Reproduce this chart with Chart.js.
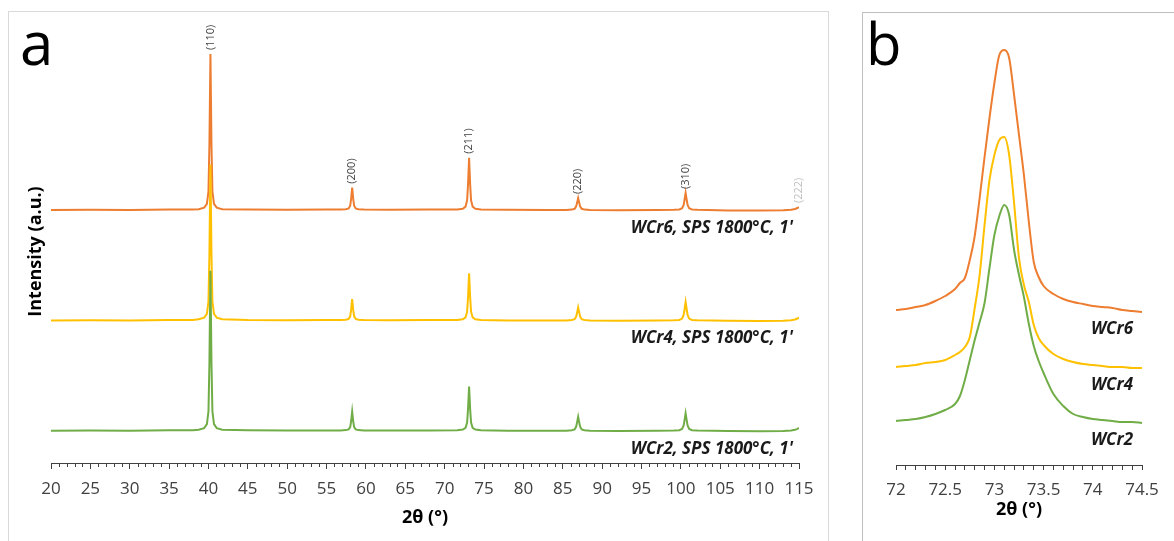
<!DOCTYPE html>
<html>
<head>
<meta charset="utf-8">
<script src="https://cdn.jsdelivr.net/npm/chart.js@4.4.1/dist/chart.umd.min.js"></script>
<style>
html,body{margin:0;padding:0;background:#fff;}
#wrap{position:relative;width:1174px;height:541px;overflow:hidden;background:#fff;}
#boxA{position:absolute;left:8px;top:11px;width:821px;height:600px;border:1px solid #d9d9d9;box-sizing:border-box;}
#boxB{position:absolute;left:862px;top:12px;width:400px;height:600px;border:1px solid #bfbfbf;box-sizing:border-box;}
#cA{position:absolute;left:0;top:0;}
#cB{position:absolute;left:840px;top:0;}
</style>
</head>
<body>
<div id="wrap">
  <div id="boxA"></div>
  <div id="boxB"></div>
  <canvas id="cA" width="845" height="541"></canvas>
  <canvas id="cB" width="334" height="541"></canvas>
</div>
<script>
// ---------------- DATA: panel a (full pattern, offset stacked, a.u.) ----------------
const twoThetaA = [20, 25, 30, 35, 38,
  38.75, 39.45, 39.8, 40.0, 40.12, 40.25, 40.38, 40.5, 40.7, 41.05, 41.75,
  45, 50, 55,
  56.75, 57.45, 57.8, 58.0, 58.12, 58.25, 58.38, 58.5, 58.7, 59.05, 59.75,
  63, 68,
  71.6, 72.3, 72.65, 72.85, 72.97, 73.1, 73.23, 73.35, 73.55, 73.9, 74.6,
  78, 83,
  85.45, 86.15, 86.5, 86.7, 86.82, 86.95, 87.08, 87.2, 87.4, 87.75, 88.45,
  92, 97,
  99.1, 99.8, 100.15, 100.35, 100.47, 100.6, 100.73, 100.85, 101.05, 101.4, 102.1,
  106, 110, 113, 114, 114.5, 114.8, 115];

const wcr6A = [253, 253.3, 253, 253.4, 253.5,
  253.8, 255.3, 259.2, 271.7, 318.5, 409, 318.5, 271.7, 259.2, 255.3, 253.8,
  253.5, 253.2, 253.4,
  253.4, 253.7, 254.6, 257.3, 264.3, 275.3, 264.3, 257.3, 254.6, 253.7, 253.4,
  253.3, 253.4,
  253.6, 254.3, 256.4, 262.7, 279.3, 305.3, 279.3, 262.7, 256.4, 254.3, 253.6,
  253.2, 253,
  253.1, 253.4, 254.2, 256.6, 260.4, 265, 260.4, 256.6, 254.2, 253.4, 253.1,
  252.8, 253,
  253.2, 253.6, 254.7, 258.1, 263.5, 270, 263.5, 258.1, 254.7, 253.6, 253.2,
  252.6, 252.5, 252.8, 253.3, 254, 255, 256];

const wcr4A = [142.5, 142.8, 142.5, 142.9, 143,
  143.8, 145.3, 149.2, 161.7, 208.5, 298.5, 208.5, 161.7, 149.2, 145.3, 143.8,
  143, 142.7, 142.9,
  142.9, 143.2, 144.1, 146.6, 153.3, 163.8, 153.3, 146.6, 144.1, 143.2, 142.9,
  142.8, 142.9,
  143.1, 143.7, 145.6, 151.3, 166.3, 189.8, 166.3, 151.3, 145.6, 143.7, 143.1,
  142.6, 142.5,
  142.6, 143, 143.8, 146.4, 150.6, 155.5, 150.6, 146.4, 143.8, 143, 142.6,
  142.3, 142.5,
  142.7, 143.1, 144.4, 148.1, 154, 161, 154, 148.1, 144.4, 143.1, 142.7,
  142.2, 142, 142.3, 142.8, 143.5, 144.5, 145.5];

const wcr2A = [32.3, 32.6, 32.3, 32.7, 32.8,
  33.3, 34.9, 38.9, 51.7, 99.7, 192.3, 99.7, 51.7, 38.9, 34.9, 33.3,
  32.7, 32.4, 32.6,
  32.6, 32.9, 33.6, 35.9, 42, 51.5, 42, 35.9, 33.6, 32.9, 32.6,
  32.5, 32.6,
  32.8, 33.4, 35.1, 40.4, 54.5, 76.5, 54.5, 40.4, 35.1, 33.4, 32.8,
  32.3, 32.2,
  32.3, 32.7, 33.6, 36.4, 40.9, 46.2, 40.9, 36.4, 33.6, 32.7, 32.3,
  32, 32.2,
  32.4, 32.8, 34, 37.5, 43.1, 49.7, 43.1, 37.5, 34, 32.8, 32.4,
  31.9, 31.8, 32, 32.5, 33.2, 34.2, 35];

const hklLabels = ['(110)', '(200)', '(211)', '(220)', '(310)', '(222)'];
const hklPositions = [40.25, 58.25, 73.1, 86.95, 100.6, 115];
const sampleLabelsA = ["WCr2, SPS 1800°C, 1'", "WCr4, SPS 1800°C, 1'", "WCr6, SPS 1800°C, 1'"];
const xRangeA = [20, 115];

// ---------------- DATA: panel b (zoom on (211) reflection) ----------------
const twoThetaB = [72, 72.1, 72.2, 72.3, 72.4, 72.5, 72.6, 72.65, 72.7, 72.75, 72.8, 72.85,
  72.9, 72.95, 73.0, 73.05, 73.1, 73.15, 73.2, 73.25, 73.3, 73.35, 73.4, 73.45, 73.5,
  73.6, 73.7, 73.8, 73.9, 74.0, 74.1, 74.2, 74.3, 74.4, 74.5];
const wcr6B = [155, 156, 158, 160, 164, 169, 176, 182, 187, 205, 229, 267,
  308, 347, 382, 410, 415, 407, 370, 330, 290, 243, 203, 188, 179,
  171, 166, 163, 161, 159, 158, 157, 155, 154, 153];
const wcr4B = [98, 99, 100, 102, 103, 105, 110, 113, 118, 128, 157, 190,
  240, 285, 310, 325, 328, 310, 262, 207, 180, 163, 140, 127, 120,
  111, 106, 103, 101, 100, 99, 98, 98, 97, 97];
const wcr2B = [44, 45, 46, 48, 51, 55, 61, 69, 85, 105, 125, 143,
  162, 197, 230, 249, 260, 250, 215, 190, 168, 141, 119, 104, 92,
  71, 59, 51, 48, 46, 45, 44, 43, 43, 42];
const sampleLabelsB = ['WCr2', 'WCr4', 'WCr6'];
const xRangeB = [72, 74.5];

// ---------------- STYLE ----------------
const colors = ['#70AD47', '#FFC000', '#ED7D31'];
const axisColor = '#404040';
const FONT = "'Open Sans', 'Noto Sans', sans-serif";

function pts(xs, ys) { return xs.map((x, i) => ({x: x, y: ys[i]})); }

// ---------------- PANEL A ----------------
const minorTicksA = {
  id: 'minorTicksA',
  afterDraw(chart) {
    const s = chart.scales.x, ctx = chart.ctx;
    ctx.save();
    ctx.strokeStyle = axisColor; ctx.lineWidth = 1;
    s.ticks.forEach(t => {
      if (Math.round(t.value) % 5 !== 0) {
        const px = Math.round(s.getPixelForValue(t.value)) + 0.5;
        ctx.beginPath(); ctx.moveTo(px, s.top); ctx.lineTo(px, s.top + 4); ctx.stroke();
      }
    });
    ctx.restore();
  }
};

const annotA = {
  id: 'annotA',
  afterDatasetsDraw(chart) {
    const ctx = chart.ctx, xs = chart.scales.x, ys = chart.scales.y;
    ctx.save();
    ctx.fillStyle = '#000';
    ctx.font = '60px ' + FONT;
    ctx.textAlign = 'left'; ctx.textBaseline = 'alphabetic';
    ctx.fillText('a', 20, 65);
    ctx.font = '11px ' + FONT;
    hklLabels.forEach((lab, i) => {
      const idx = twoThetaA.indexOf(hklPositions[i]);
      const px = xs.getPixelForValue(hklPositions[i]);
      const py = ys.getPixelForValue(wcr6A[idx]) - 4;
      ctx.save();
      ctx.translate(px, py);
      ctx.rotate(-Math.PI / 2);
      ctx.fillStyle = lab === '(222)' ? '#bfbfbf' : '#404040';
      ctx.textAlign = 'left'; ctx.textBaseline = 'middle';
      ctx.fillText(lab, 0, 0);
      ctx.restore();
    });
    ctx.font = 'italic bold 17px ' + FONT;
    ctx.fillStyle = '#1a1a1a';
    ctx.textAlign = 'right'; ctx.textBaseline = 'middle';
    [wcr2A, wcr4A, wcr6A].forEach((arr, i) => {
      const px = xs.getPixelForValue(twoThetaA[twoThetaA.length - 1]) - 6;
      const py = ys.getPixelForValue(arr[0]) + 18;
      ctx.fillText(sampleLabelsA[i], px, py);
    });
    ctx.restore();
  }
};

new Chart(document.getElementById('cA'), {
  type: 'line',
  data: {
    datasets: [
      {label: sampleLabelsA[0], data: pts(twoThetaA, wcr2A), borderColor: colors[0]},
      {label: sampleLabelsA[1], data: pts(twoThetaA, wcr4A), borderColor: colors[1]},
      {label: sampleLabelsA[2], data: pts(twoThetaA, wcr6A), borderColor: colors[2]}
    ]
  },
  options: {
    responsive: false,
    animation: false,
    parsing: false,
    layout: {padding: {left: 0, right: 46, top: 40, bottom: 0}},
    elements: {point: {radius: 0}, line: {borderWidth: 2, tension: 0}},
    plugins: {legend: {display: false}, tooltip: {enabled: false}},
    scales: {
      x: {
        type: 'linear', min: xRangeA[0], max: xRangeA[1],
        afterFit(s) { s.height = 78; },
        border: {display: true, color: axisColor, width: 1},
        grid: {drawOnChartArea: false, tickLength: 6,
          tickColor: c => (c.tick && Math.round(c.tick.value) % 5 === 0) ? axisColor : 'rgba(0,0,0,0)'},
        ticks: {stepSize: 1, autoSkip: false, maxTicksLimit: 1000, maxRotation: 0, minRotation: 0,
          padding: 10, color: axisColor, font: {family: FONT, size: 17},
          callback: v => (Math.round(v) % 5 === 0 ? String(Math.round(v)) : '')},
        title: {display: true, text: '2θ (°)', color: '#000',
          font: {family: FONT, size: 18, weight: 'bold'}, padding: {top: 0, bottom: 12}}
      },
      y: {
        type: 'linear', min: 0, max: 423,
        afterFit(s) { s.width = 51; },
        border: {display: false},
        grid: {display: false},
        ticks: {display: false},
        title: {display: true, text: 'Intensity (a.u.)', color: '#000',
          font: {family: FONT, size: 18, weight: 'bold'}, padding: {top: 25, bottom: 0}}
      }
    }
  },
  plugins: [minorTicksA, annotA]
});

// ---------------- PANEL B ----------------
const annotB = {
  id: 'annotB',
  afterDatasetsDraw(chart) {
    const ctx = chart.ctx, xs = chart.scales.x, ys = chart.scales.y;
    ctx.save();
    ctx.fillStyle = '#000';
    ctx.font = '58px ' + FONT;
    ctx.textAlign = 'left'; ctx.textBaseline = 'alphabetic';
    ctx.fillText('b', 26, 65);
    ctx.font = 'italic bold 17px ' + FONT;
    ctx.fillStyle = '#1a1a1a';
    ctx.textAlign = 'right'; ctx.textBaseline = 'middle';
    [wcr2B, wcr4B, wcr6B].forEach((arr, i) => {
      const px = xs.getPixelForValue(twoThetaB[twoThetaB.length - 1]) - 9;
      const py = ys.getPixelForValue(arr[arr.length - 1]) + 17;
      ctx.fillText(sampleLabelsB[i], px, py);
    });
    ctx.restore();
  }
};

new Chart(document.getElementById('cB'), {
  type: 'line',
  data: {
    datasets: [
      {label: sampleLabelsB[0], data: pts(twoThetaB, wcr2B), borderColor: colors[0]},
      {label: sampleLabelsB[1], data: pts(twoThetaB, wcr4B), borderColor: colors[1]},
      {label: sampleLabelsB[2], data: pts(twoThetaB, wcr6B), borderColor: colors[2]}
    ]
  },
  options: {
    responsive: false,
    animation: false,
    parsing: false,
    layout: {padding: {left: 56, right: 32, top: 20, bottom: 0}},
    elements: {point: {radius: 0}, line: {borderWidth: 2, cubicInterpolationMode: 'monotone'}},
    plugins: {legend: {display: false}, tooltip: {enabled: false}},
    scales: {
      x: {
        type: 'linear', min: xRangeB[0], max: xRangeB[1],
        afterFit(s) { s.height = 76; },
        border: {display: true, color: axisColor, width: 1},
        grid: {drawOnChartArea: false, tickLength: 5, tickColor: axisColor},
        ticks: {stepSize: 0.1, autoSkip: false, maxTicksLimit: 1000, maxRotation: 0, minRotation: 0,
          padding: 10, color: axisColor, font: {family: FONT, size: 17},
          callback: v => (Math.abs(v * 2 - Math.round(v * 2)) < 1e-6 ? String(Math.round(v * 2) / 2) : '')},
        title: {display: true, text: '2θ (°)', color: '#000',
          font: {family: FONT, size: 18, weight: 'bold'}, padding: {top: 0, bottom: 20}}
      },
      y: {type: 'linear', min: 0, max: 445, display: false}
    }
  },
  plugins: [annotB]
});
</script>
</body>
</html>
